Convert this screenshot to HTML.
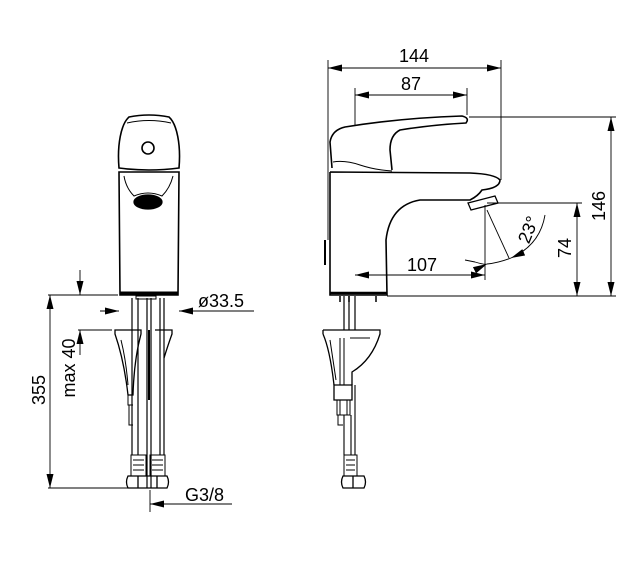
<!DOCTYPE html>
<html><head><meta charset="utf-8"><style>
html,body{margin:0;padding:0;background:#fff;}
svg{display:block;}
text{font-family:"Liberation Sans",sans-serif;fill:#000;}
</style></head><body>
<svg width="643" height="572" viewBox="0 0 643 572" xmlns="http://www.w3.org/2000/svg">
<defs>
<marker id="a" viewBox="0 0 14 7" refX="14" refY="3.5" markerWidth="14" markerHeight="7" orient="auto-start-reverse" markerUnits="userSpaceOnUse"><path d="M0,0 L14,3.5 L0,7 z" fill="#000"/></marker>
</defs>
<g fill="none" stroke="#000" stroke-width="1.3">
<!-- FRONT VIEW -->
<path d="M119,168 C117,145 121,124 129,117 Q149,113 169,117 C177,124 181,145 179,168 Q149,172 119,168 z" stroke-width="1.6"/>
<path d="M127,123 Q149,118 171,123" stroke-width="1"/>
<circle cx="148" cy="148" r="6" stroke-width="1.6"/>
<path d="M119,172 L179,172 L178,295 L120,295 z" stroke-width="1.6"/>
<path d="M124,176 Q126,188 134,196 Q148,190 162,196 Q170,188 173,176" stroke-width="1"/>
<ellipse cx="148" cy="202" rx="14" ry="7" fill="#000"/>
<path d="M120,293 L178,293" stroke-width="3"/>
<path d="M136,296 L156,296 L156,299 L136,299 z" stroke-width="1"/>
<!-- pipes -->
<path d="M132,298 V455 M138,298 V455 M147,298 V488 M151,298 V488 M160,298 V455 M164,298 V455" stroke-width="1.2"/>
<!-- brackets -->
<path d="M115,330 L141,330 L141,334 Q134,360 133,395 L128,395 Q124,360 115,334 z" stroke-width="1.3"/>
<path d="M121,340 Q126,360 128,385" stroke-width="1"/>
<path d="M128,395 L128,405 L133,405 M129,405 L129,425 L133,425" stroke-width="1"/>
<path d="M155,330 L172,330 L172,334 Q168,345 164,358" stroke-width="1.3"/>
<path d="M149,330 V400" stroke-width="2"/>
<!-- connectors -->
<path d="M131,455 H146 V476 H131 z M133,460 H144 M133,465 H144 M133,470 H144" stroke-width="1"/>
<path d="M150,455 H165 V476 H150 z M152,460 H163 M152,465 H163 M152,470 H163" stroke-width="1"/>
<path d="M128,476 H167 Q170,482 167,488 H128 Q125,482 128,476 z M138,476 V488 M157,476 V488" stroke-width="1.3"/>
<!-- front dims -->
<path d="M48,295 H118 M78,330 H112" stroke-width="0.9"/>
<path d="M50,295 V488" stroke-width="0.9" marker-start="url(#a)" marker-end="url(#a)"/>
<path d="M48,488 H128" stroke-width="0.9"/>
<path d="M80,270 V295" stroke-width="0.9" marker-end="url(#a)"/>
<path d="M80,355 V330" stroke-width="0.9" marker-end="url(#a)"/>
<path d="M100,311 H119" stroke-width="0.9" marker-end="url(#a)"/>
<path d="M254,311 H179" stroke-width="0.9" marker-end="url(#a)"/>
<path d="M150,490 V512" stroke-width="0.9"/>
<path d="M232,504 H150" stroke-width="0.9" marker-end="url(#a)"/>
<!-- SIDE VIEW -->
<path d="M332,168 L330,142 Q332,130 345,127 Q400,118 462,116 Q470,118 466,123 Q430,125 400,130 Q390,135 390,150 L392,170" stroke-width="1.6"/>
<path d="M333,162 Q345,160 360,165 Q375,170 392,171" stroke-width="1"/>
<path d="M330,172 L330,295 L387,295 L386,240 Q390,205 420,200 L470,200 Q478,196 482,190 Q500,188 500,180 Q495,174 470,173 L330,172" stroke-width="1.6"/>
<path d="M468,203 L495,196 L498,203 L471,210 z" stroke-width="1.3"/>
<path d="M330,293 H387" stroke-width="2.5"/>
<path d="M325,240 V265" stroke-width="2"/>
<path d="M340,296 V302 M349,296 V302 M376,296 V302" stroke-width="1.5"/>
<path d="M344,296 V330 M349,296 V330 M355,296 V330" stroke-width="1.2"/>
<!-- side bracket -->
<path d="M323,330 L380,330 L380,334 Q372,360 352,372 L352,385 M323,334 Q330,350 334,385 M323,330 V334" stroke-width="1.3"/>
<path d="M330,340 L336,380 M340,338 V385 M344,338 V385 M350,338 L370,338" stroke-width="1"/>
<path d="M334,385 H352 V400 H334 z" stroke-width="1.3"/>
<path d="M337,400 H350 V415 H337 z M340,400 V415 M347,400 V415" stroke-width="1"/>
<path d="M338,415 V425 H343" stroke-width="1"/>
<path d="M344,415 V455 M351,415 V455 M355,385 V455" stroke-width="1.1"/>
<path d="M344,455 H357 V476 H344 z M346,460 H355 M346,465 H355 M346,470 H355" stroke-width="1"/>
<path d="M343,476 H364 Q367,482 364,488 H343 Q340,482 343,476 z M353,476 V488" stroke-width="1.3"/>
<!-- side dims -->
<path d="M328,60 V240 M501,60 V180 M355,88 V125 M467,88 V115" stroke-width="0.9"/>
<path d="M328,68 H501" stroke-width="0.9" marker-start="url(#a)" marker-end="url(#a)"/>
<path d="M355,95 H467" stroke-width="0.9" marker-start="url(#a)" marker-end="url(#a)"/>
<path d="M469,117 H616 M387,296 H616 M487,203 H582" stroke-width="0.9"/>
<path d="M611,117 V296" stroke-width="0.9" marker-start="url(#a)" marker-end="url(#a)"/>
<path d="M577,203 V296" stroke-width="0.9" marker-start="url(#a)" marker-end="url(#a)"/>
<path d="M485,205 V280" stroke-width="0.9"/>
<path d="M355,275 H485" stroke-width="0.9" marker-start="url(#a)" marker-end="url(#a)"/>
<path d="M487,210 L509,258" stroke-width="0.9"/>
<path d="M465,260 L475,262" stroke-width="0.9"/>
<path d="M475,262 Q485,265 487,264" stroke-width="0.9" marker-end="url(#a)"/>
<path d="M545,215 Q540,245 511,258" stroke-width="0.9" marker-end="url(#a)"/>
<path d="M487,264 Q498,263 511,258" stroke-width="0.9"/>
</g>
<!-- text -->
<text x="198" y="307" font-size="18">ø33.5</text>
<text x="185" y="501" font-size="18">G3/8</text>
<text transform="translate(45,390) rotate(-90)" font-size="18" text-anchor="middle">355</text>
<text transform="translate(75,368) rotate(-90)" font-size="18" text-anchor="middle">max 40</text>
<text x="414" y="62" font-size="18" text-anchor="middle">144</text>
<text x="411" y="90" font-size="18" text-anchor="middle">87</text>
<text x="422" y="271" font-size="18" text-anchor="middle">107</text>
<text transform="translate(605,206) rotate(-90)" font-size="18" text-anchor="middle">146</text>
<text transform="translate(571,248) rotate(-90)" font-size="18" text-anchor="middle">74</text>
<text transform="translate(534,232) rotate(-68)" font-size="18" text-anchor="middle">23°</text>
</svg>
</body></html>
